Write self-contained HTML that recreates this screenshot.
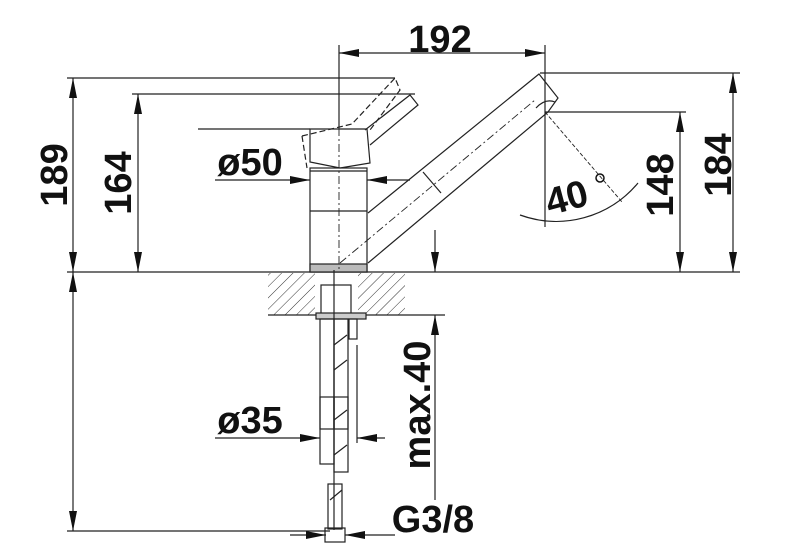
<!DOCTYPE html>
<html><head><meta charset="utf-8"><style>
html,body{margin:0;padding:0;background:#fff}
svg{display:block}
text{font-family:"Liberation Sans",sans-serif;font-weight:bold;fill:#111}
</style></head><body>
<svg width="800" height="557" viewBox="0 0 800 557" xmlns="http://www.w3.org/2000/svg">
<defs>
<marker id="a" viewBox="0 0 20 8" refX="20" refY="4" markerWidth="20" markerHeight="8" markerUnits="userSpaceOnUse" orient="auto-start-reverse"><path d="M0,0 L20,4 L0,8 z" fill="#111"/></marker>
<pattern id="h" width="8" height="8" patternUnits="userSpaceOnUse" patternTransform="rotate(45)"><line x1="0" y1="0" x2="0" y2="8" stroke="#333" stroke-width="1"/></pattern>
</defs>
<g stroke="#222" stroke-width="1.2" fill="none">
<line x1="67" y1="272" x2="740" y2="272"/>
<line x1="67" y1="78" x2="395" y2="78"/>
<line x1="132" y1="94" x2="415" y2="94"/>
<line x1="198" y1="129" x2="310" y2="129"/>
<line x1="540" y1="73" x2="740" y2="73"/>
<line x1="545" y1="112" x2="686" y2="112"/>
<line x1="67" y1="531" x2="330" y2="531"/>
<line x1="73" y1="78" x2="73" y2="272" marker-start="url(#a)" marker-end="url(#a)"/>
<line x1="73" y1="272" x2="73" y2="531" marker-start="url(#a)" marker-end="url(#a)"/>
<line x1="138" y1="94" x2="138" y2="272" marker-start="url(#a)" marker-end="url(#a)"/>
<line x1="680" y1="112" x2="680" y2="272" marker-start="url(#a)" marker-end="url(#a)"/>
<line x1="733" y1="73" x2="733" y2="272" marker-start="url(#a)" marker-end="url(#a)"/>
<line x1="339" y1="53" x2="545" y2="53" marker-start="url(#a)" marker-end="url(#a)"/>
<line x1="339" y1="45" x2="339" y2="128"/>
<line x1="545" y1="45" x2="545" y2="227"/>
<line x1="215" y1="180" x2="310" y2="180" marker-end="url(#a)"/>
<line x1="410" y1="180" x2="367" y2="180" marker-end="url(#a)"/>
<line x1="435" y1="230" x2="435" y2="272" marker-end="url(#a)"/>
<line x1="435" y1="500" x2="435" y2="315" marker-end="url(#a)"/>
<line x1="405" y1="315" x2="445" y2="315"/>
<line x1="215" y1="438" x2="320" y2="438" marker-end="url(#a)"/>
<line x1="385" y1="438" x2="357" y2="438" marker-end="url(#a)"/>
<line x1="357" y1="345" x2="357" y2="443"/>
<line x1="290" y1="535" x2="326" y2="535" marker-end="url(#a)"/>
<line x1="395" y1="535" x2="345" y2="535" marker-end="url(#a)"/>
<rect x="268" y="273" width="47" height="42" fill="url(#h)" stroke="none"/>
<rect x="358" y="273" width="47" height="42" fill="url(#h)" stroke="none"/>
<line x1="268" y1="315" x2="405" y2="315"/>
<rect x="310" y="168" width="57" height="104"/>
<line x1="310" y1="171" x2="367" y2="171"/>
<line x1="310" y1="211" x2="367" y2="211"/>
<rect x="310" y="264" width="57" height="8" fill="#bbb"/>
<path d="M310,129 L367,129 L370,163 L340,168 L310,162 z"/>
<path d="M365,130 L410,95 L418,105 L370,145"/>
<path d="M302,136 L352,124 L395,78 L400,90 L370,130" stroke-dasharray="6,3"/>
<path d="M302,136 L307,168" stroke-dasharray="6,3"/>
<line x1="339" y1="128" x2="339" y2="272" stroke-dasharray="8,3,2,3" stroke-width="0.9"/>
<path d="M368,213 L539,74 L558,98 L548,112 L368,263"/>
<line x1="423" y1="172" x2="441" y2="193"/>
<line x1="340" y1="263" x2="535" y2="100" stroke-dasharray="8,3,2,3" stroke-width="0.9"/>
<path d="M536,108 Q545,98 555,102"/>
<line x1="545" y1="112" x2="622" y2="202" stroke-dasharray="4,2" stroke-width="0.9"/>
<path d="M520,215 A106,106 0 0 0 638,183"/>
<rect x="321" y="285" width="30" height="30"/>
<rect x="316" y="313" width="50" height="6" fill="#ccc"/>
<rect x="320" y="319" width="14" height="110"/>
<rect x="334" y="319" width="14" height="110"/>
<rect x="349" y="319" width="8" height="20"/>
<rect x="320" y="397" width="14" height="67"/>
<rect x="334" y="397" width="14" height="75"/>
<rect x="328" y="484" width="14" height="45"/>
<rect x="325" y="528" width="20" height="14"/>
<line x1="334" y1="270" x2="334" y2="530"/>
<path d="M334,345 L347,335 M334,370 L347,360 M334,420 L347,410 M334,455 L347,445 M330,500 L342,490"/>
</g>
<text x="440" y="52" font-size="38" text-anchor="middle">192</text>
<text x="250" y="175" font-size="38" text-anchor="middle">ø50</text>
<text x="250" y="433" font-size="38" text-anchor="middle">ø35</text>
<text x="433" y="532" font-size="38" text-anchor="middle">G3/8</text>
<text transform="translate(67,175) rotate(-90)" font-size="38" text-anchor="middle">189</text>
<text transform="translate(131,183) rotate(-90)" font-size="38" text-anchor="middle">164</text>
<text transform="translate(673,185) rotate(-90)" font-size="38" text-anchor="middle">148</text>
<text transform="translate(731,165) rotate(-90)" font-size="38" text-anchor="middle">184</text>
<text transform="translate(430,405) rotate(-90)" font-size="38" text-anchor="middle">max.40</text>
<text transform="translate(570,210) rotate(-15)" font-size="38" text-anchor="middle">40</text>
<circle cx="600" cy="178" r="4" fill="none" stroke="#111" stroke-width="1.5"/>
</svg>
</body></html>
